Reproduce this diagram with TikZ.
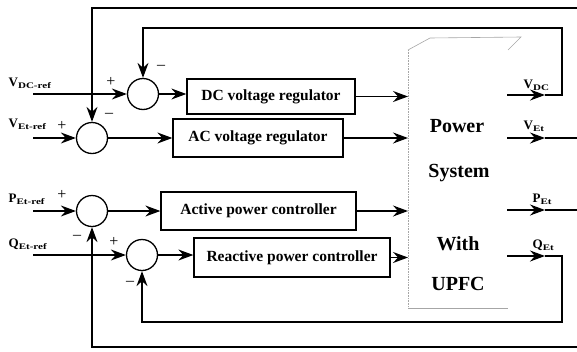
\documentclass[tikz,border=0pt]{standalone}
\usepackage{fontspec}
\setmainfont{Liberation Serif}
\newfontfamily\subfnt[FakeStretch=1.3]{Liberation Serif}
\usetikzlibrary{arrows.meta}
\newcommand{\sig}[2]{{\fontsize{13}{15}\selectfont #1}\raisebox{-2.4pt}{\subfnt\bfseries\fontsize{8.5}{10}\selectfont #2}}
\begin{document}
\begin{tikzpicture}[x=1pt,y=-1pt,line width=1.3pt,
  font=\bfseries\fontsize{15.5}{18}\selectfont,
  arr/.style={-{Stealth[length=15pt,width=11pt,inset=5pt]}},
  sumc/.style={draw,circle,minimum size=31pt,inner sep=0pt},
  blockbox/.style={draw,rectangle,inner sep=0pt},
  sig/.style={anchor=base west,inner sep=0pt},
  pm/.style={inner sep=0pt,font=\fontsize{16}{17}\selectfont},
  pstext/.style={anchor=base,inner sep=0pt,font=\bfseries\fontsize{20}{22}\selectfont},
  psline/.style={draw=gray!70,line width=0.6pt}]
\useasboundingbox (0,0) rectangle (577,351);

% summing points
\node[sumc] (sdc) at (143,94) {};
\node[sumc] (sac) at (92,138) {};
\node[sumc] (sp) at (92,211) {};
\node[sumc] (sq) at (142,255) {};

% controllers
\node[blockbox,minimum width=168pt,minimum height=35pt] (dcreg) at (271,96.5) {DC voltage regulator};
\node[blockbox,minimum width=170pt,minimum height=38pt] (acreg) at (258,138) {AC voltage regulator};
\node[blockbox,minimum width=195pt,minimum height=38pt] (preg) at (258.5,211) {Active power controller};
\node[blockbox,minimum width=196pt,minimum height=39pt] (qreg) at (292,257.5) {Reactive power controller};

% power system
\coordinate (psnw) at (408,50);
\coordinate (psse) at (508,308);
\draw[psline,densely dotted] (psnw) -- (psnw |- psse);
\draw[psline] (psnw |- psse) -- (psse);
\draw[psline] (psnw) -- (430,38) -- (521,37) -- (psse |- psnw);
\node[pstext] (pw) at (457,132) {Power};
\node[pstext] (sy) at (459,177) {System};
\node[pstext] (wi) at (458,250) {With};
\node[pstext] (up) at (458,290) {UPFC};

% references
\node[sig] (vdcref) at (8,86) {\sig{V}{DC-ref}};
\node[sig] (vetref) at (8,127) {\sig{V}{Et-ref}};
\node[sig] (petref) at (8,202) {\sig{P}{Et-ref}};
\node[sig] (qetref) at (8,247) {\sig{Q}{Et-ref}};
\coordinate (vdcin) at (33,94);
\coordinate (vetin) at (33,138);
\coordinate (petin) at (33,211);
\coordinate (qetin) at (33,255);
\draw[arr] (vdcin) -- (sdc.west);
\draw[arr] (vetin) -- (sac.west);
\draw[arr] (petin) -- (sp.west);
\draw[arr] (qetin) -- (sq.west);

% signs
\node[pm] (p1) at (111,82) {+};
\node[pm] (m1) at (161,67) {--};
\node[pm] (p2) at (62,126) {+};
\node[pm] (m2) at (109,115) {--};
\node[pm] (p3) at (62,195) {+};
\node[pm] (m3) at (77,237) {--};
\node[pm] (p4) at (114,242) {+};
\node[pm] (m4) at (130,283) {--};

% forward paths
\draw[arr] (sdc.east) -- (sdc.east -| dcreg.west);
\draw[arr] (sac.east) -- (sac.east -| acreg.west);
\draw[arr] (sp.east) -- (sp.east -| preg.west);
\draw[arr] (sq.east) -- (sq.east -| qreg.west);
\draw[arr] (dcreg.east) -- (dcreg.east -| psnw);
\draw[arr] (acreg.east) -- (acreg.east -| psnw);
\draw[arr] (preg.east) -- (preg.east -| psnw);
\draw[arr] (qreg.east) -- (qreg.east -| psnw);

% outputs
\coordinate (vdco) at (507,95);
\coordinate (vdct) at (545,95);
\coordinate (veto) at (507,138);
\coordinate (vett) at (545,138);
\coordinate (vetr) at (577,138);
\coordinate (peto) at (507,210);
\coordinate (pett) at (545,210);
\coordinate (petr) at (577,210);
\coordinate (qeto) at (507,256);
\coordinate (qett) at (545,256);
\draw[arr] (vdco) -- (vdct);
\draw[arr] (veto) -- (vett);
\draw[arr] (peto) -- (pett);
\draw[arr] (qeto) -- (qett);
\draw (vett) -- (vetr);
\draw (pett) -- (petr);
\node[sig] (vdc) at (523,88) {\sig{V}{DC}};
\node[sig] (vet) at (523,129) {\sig{V}{Et}};
\node[sig] (pet) at (532,202) {\sig{P}{Et}};
\node[sig] (qet) at (532,248) {\sig{Q}{Et}};

% feedback loops
\coordinate (dctop) at (562,28);
\coordinate (qbot) at (562,322);
\coordinate (toprt) at (577,8);
\coordinate (botrt) at (577,347);
\draw[arr] (vdct) -| (dctop) -| (sdc.north);
\draw[arr] (qett) -| (qbot) -| (sq.south);
\draw[arr] (toprt) -| (sac.north);
\draw[arr] (botrt) -| (sp.south);
\end{tikzpicture}
\end{document}
